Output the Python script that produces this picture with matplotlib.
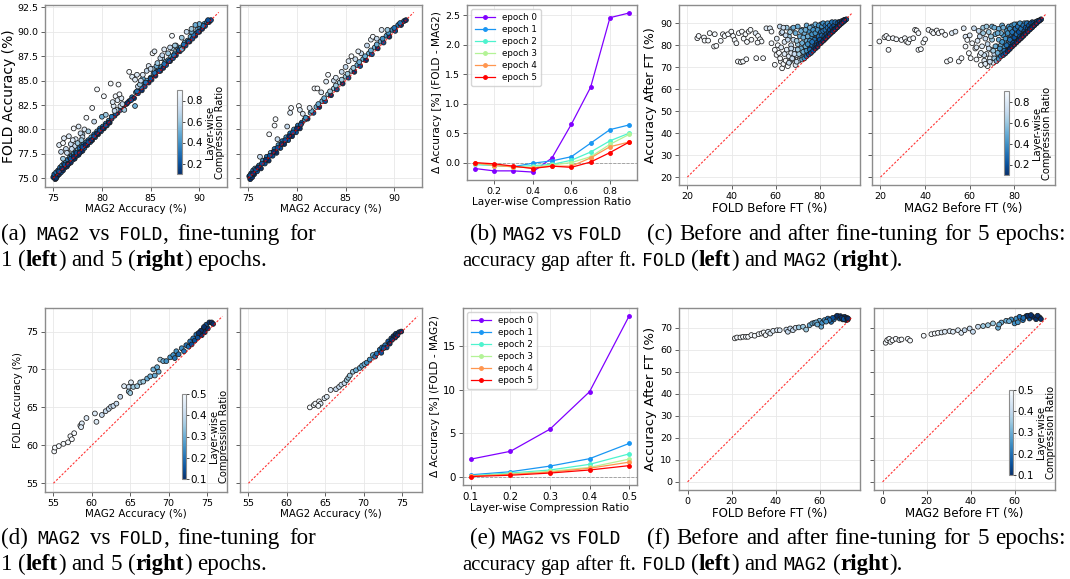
import re
import numpy as np
import matplotlib
matplotlib.use("Agg")
import matplotlib.pyplot as plt

plt.rcParams['font.family'] = 'DejaVu Sans'

# ---- data: (x, y, layer-wise compression ratio) ----
# (a) left: MAG2 vs FOLD accuracy after 1 epoch of fine-tuning
a1_pts = [
    (75.0, 75.1, .1), (75.1, 75.4, .2), (75.2, 74.9, .1), (75.3, 75.6, .3), (75.4, 75.2, .1), (75.5, 75.8, .2),
    (75.6, 75.4, .1), (75.7, 76.1, .3), (75.8, 75.6, .2), (75.9, 76.3, .4), (76.0, 75.8, .1), (76.1, 76.5, .3),
    (76.2, 76.1, .2), (76.3, 76.7, .4), (76.4, 76.2, .1), (76.5, 76.9, .3), (76.6, 76.5, .2), (76.7, 77.1, .4),
    (76.8, 76.6, .1), (76.9, 77.3, .3), (77.0, 76.9, .2), (77.1, 77.5, .4), (77.2, 77.0, .1), (77.3, 77.7, .3),
    (77.4, 77.3, .2), (77.5, 77.9, .5), (77.6, 77.4, .1), (77.7, 78.1, .3), (77.8, 77.7, .2), (77.9, 78.3, .4),
    (78.0, 77.8, .1), (78.1, 78.5, .3), (78.2, 78.1, .2), (78.4, 78.7, .4), (78.5, 78.4, .1), (78.6, 78.9, .3),
    (78.8, 78.7, .2), (78.9, 79.2, .4), (79.0, 78.9, .1), (79.2, 79.5, .3), (79.3, 79.2, .2), (79.5, 79.8, .4),
    (79.6, 79.5, .1), (79.8, 80.1, .3), (79.9, 79.8, .2), (80.1, 80.3, .3), (80.2, 80.1, .1), (80.4, 80.6, .3),
    (80.5, 80.4, .2), (80.7, 80.9, .4), (80.8, 80.7, .1), (81.0, 81.1, .2), (81.3, 81.4, .2), (81.6, 81.7, .1),
    (81.9, 82.0, .3), (82.2, 82.2, .1), (82.5, 82.6, .2), (82.8, 82.9, .1), (83.1, 83.3, .3), (83.3, 83.2, .1),
    (83.5, 83.8, .4), (83.7, 83.7, .2), (83.9, 84.2, .4), (84.1, 84.0, .1), (84.3, 84.6, .4), (84.4, 84.4, .2),
    (84.6, 85.0, .5), (84.8, 84.8, .1), (85.0, 85.3, .4), (85.1, 85.1, .2), (85.3, 85.7, .5), (85.5, 85.5, .1),
    (85.6, 85.9, .3), (85.8, 86.3, .5), (86.0, 86.0, .2), (86.1, 86.4, .4), (86.3, 86.3, .1), (86.5, 86.9, .5),
    (86.6, 86.6, .2), (86.8, 87.1, .4), (87.0, 87.0, .1), (87.1, 87.5, .5), (87.3, 87.3, .2), (87.5, 87.8, .4),
    (87.6, 87.6, .1), (87.8, 88.3, .5), (88.0, 88.0, .2), (88.1, 88.4, .4), (88.3, 88.3, .1), (88.5, 88.9, .5),
    (88.6, 88.6, .2), (88.8, 89.1, .4), (89.0, 89.0, .1), (89.1, 89.5, .5), (89.3, 89.3, .2), (89.5, 89.8, .4),
    (89.6, 89.6, .1), (89.8, 90.2, .5), (90.0, 90.0, .2), (90.1, 90.4, .4), (90.3, 90.3, .1), (90.5, 90.8, .4),
    (90.6, 90.6, .2), (90.8, 91.0, .3), (91.0, 91.0, .1), (91.2, 91.2, .2),
    (75.3, 75.0, .1), (75.6, 75.7, .2), (75.9, 76.0, .1), (76.2, 76.4, .2), (76.5, 76.4, .1), (76.8, 77.0, .2),
    (77.1, 77.2, .1), (77.4, 77.6, .2), (77.7, 77.6, .1), (78.0, 78.2, .2), (78.3, 78.4, .1), (78.6, 78.7, .2),
    (78.9, 78.9, .1), (79.2, 79.3, .2), (79.5, 79.6, .1), (79.8, 79.9, .2), (80.1, 80.1, .1), (80.4, 80.4, .2),
    (80.7, 80.7, .1), (81.0, 81.3, .3), (81.4, 81.6, .2), (82.0, 82.3, .2), (82.6, 82.7, .1), (83.0, 83.0, .2),
    (83.6, 83.9, .3), (84.0, 84.3, .3), (84.5, 84.8, .3), (85.0, 85.2, .2), (85.4, 85.8, .3), (85.9, 86.0, .2),
    (86.4, 86.7, .3), (86.9, 87.0, .2), (87.4, 87.6, .3), (87.9, 88.1, .2), (88.4, 88.7, .3), (88.9, 89.0, .2),
    (89.4, 89.7, .3), (89.9, 90.0, .2), (90.4, 90.6, .3), (90.9, 91.2, .2), (84.2, 85.2, .5), (85.2, 86.2, .6),
    (86.2, 87.3, .6), (87.2, 88.3, .6), (88.2, 89.4, .6), (89.2, 90.0, .5), (90.0, 90.8, .5), (85.6, 86.5, .5),
    (87.6, 88.6, .5), (76.0, 77.0, .6), (76.5, 77.6, .6), (77.2, 78.3, .7), (78.0, 79.5, .6), (79.2, 80.8, .7),
    (80.0, 81.3, .5),
    (75.6, 78.4, .8), (75.8, 77.7, .7), (76.1, 79.1, .8), (76.0, 78.6, .9), (76.3, 78.0, .7), (76.6, 79.3, .8),
    (76.8, 78.5, .7), (77.1, 80.1, .9), (77.3, 79.0, .8), (77.6, 80.3, .8), (77.8, 79.6, .7), (77.5, 78.6, .6),
    (78.0, 79.2, .7), (78.4, 81.2, .9), (78.2, 80.0, .8), (78.6, 79.8, .6), (79.0, 82.2, .9), (79.5, 84.1, .9),
    (80.2, 83.4, .9), (80.4, 81.5, .6), (80.9, 84.7, .9), (81.2, 82.4, .8), (81.4, 83.4, .9), (81.6, 83.0, .8),
    (81.9, 82.4, .7), (81.7, 84.6, .9), (81.5, 82.0, .7), (82.0, 83.2, .8), (82.3, 82.0, .6), (82.8, 85.9, .9),
    (83.1, 85.4, .8), (83.4, 85.1, .8), (83.4, 82.4, .5), (83.7, 84.4, .7), (83.9, 84.6, .6), (84.2, 85.6, .8),
    (84.6, 86.0, .7), (85.2, 87.8, .9), (85.4, 88.0, .8), (85.7, 86.8, .6), (86.0, 87.3, .7), (86.4, 88.2, .8),
    (86.8, 87.8, .6), (87.2, 89.6, .9), (87.5, 88.6, .6), (88.2, 88.2, .5), (88.7, 90.0, .7), (89.2, 90.3, .6),
    (89.6, 90.7, .5), (81.1, 82.8, .8), (81.3, 81.9, .7), (81.8, 83.6, .9), (82.1, 82.6, .7), (83.6, 85.6, .8),
    (84.0, 85.0, .7), (84.8, 86.5, .8), (85.0, 86.2, .7), (86.2, 87.6, .7), (87.0, 88.4, .7), (76.4, 77.6, .7),
    (76.9, 78.0, .7), (77.0, 78.9, .8), (77.9, 78.9, .6),
]

# (a) right: after 5 epochs of fine-tuning
a2_pts = [
    (75.1, 75.2, .1), (75.2, 74.9, .1), (75.3, 75.5, .2), (75.4, 75.1, .1), (75.5, 75.8, .3), (75.6, 75.4, .1),
    (75.7, 76.0, .4), (75.9, 75.7, .2), (76.1, 76.3, .3), (76.3, 76.0, .1), (76.5, 76.8, .4), (76.7, 76.5, .2),
    (76.9, 77.2, .3), (77.1, 76.8, .1), (77.3, 77.6, .5), (77.5, 77.3, .2), (77.7, 78.0, .3), (77.9, 77.6, .1),
    (78.1, 78.4, .4), (78.3, 78.1, .2), (78.5, 78.8, .3), (78.7, 78.5, .1), (78.9, 79.2, .4), (79.1, 78.9, .2),
    (79.3, 79.6, .3), (79.5, 79.3, .1), (79.7, 80.0, .4), (79.9, 79.7, .2), (80.1, 80.4, .3), (80.3, 80.1, .1),
    (80.5, 80.7, .2), (80.8, 81.0, .4), (81.1, 81.1, .1), (81.4, 81.7, .5), (81.7, 81.7, .2), (82.0, 82.3, .5),
    (82.3, 82.3, .1), (82.6, 82.9, .5), (82.9, 82.9, .2), (83.2, 83.6, .6), (83.5, 83.5, .1), (83.8, 84.2, .6),
    (84.1, 84.1, .2), (84.4, 84.8, .6), (84.7, 84.7, .1), (85.0, 85.4, .6), (85.3, 85.3, .2), (85.6, 86.0, .6),
    (85.9, 85.9, .1), (86.2, 86.6, .5), (86.5, 86.5, .2), (86.8, 87.2, .5), (87.1, 87.1, .1), (87.4, 87.8, .5),
    (87.7, 87.7, .2), (88.0, 88.4, .5), (88.3, 88.3, .1), (88.6, 89.0, .5), (88.9, 88.9, .2), (89.2, 89.6, .4),
    (89.5, 89.5, .1), (89.8, 90.2, .4), (90.1, 90.1, .2), (90.4, 90.7, .3), (90.7, 90.7, .1), (91.0, 91.1, .2),
    (91.2, 91.2, .1),
    (75.2, 75.3, .2), (75.5, 75.5, .1), (75.8, 75.9, .2), (76.0, 76.1, .1), (76.4, 76.5, .2), (76.8, 76.9, .1),
    (77.2, 77.3, .2), (77.6, 77.7, .1), (78.0, 78.1, .2), (78.4, 78.5, .1), (78.8, 78.9, .2), (79.2, 79.3, .1),
    (79.6, 79.7, .2), (80.0, 80.1, .1), (80.4, 80.5, .2), (80.9, 81.2, .4), (81.5, 81.9, .5), (82.2, 82.6, .5),
    (82.8, 83.2, .5), (83.4, 83.9, .6), (84.0, 84.5, .6), (84.6, 85.1, .6), (85.2, 85.7, .6), (85.8, 86.3, .6),
    (86.4, 86.9, .5), (87.0, 87.5, .5), (87.6, 88.1, .5), (88.2, 88.7, .5), (88.8, 89.3, .4), (89.4, 89.9, .4),
    (90.0, 90.4, .3), (90.6, 90.9, .3), (83.8, 85.0, .7), (85.0, 86.4, .7), (86.6, 87.8, .7), (87.2, 88.6, .7),
    (77.15, 79.5, .9), (77.7, 80.4, .9), (77.8, 81.05, .9), (79.3, 81.7, .8), (79.4, 82.2, .9), (80.2, 82.4, .9),
    (80.3, 82.0, .8), (81.3, 82.2, .8), (81.8, 84.2, .9), (82.1, 84.2, .9), (83.0, 84.9, .8), (83.2, 85.6, .9),
    (85.3, 87.0, .8), (85.6, 87.5, .9), (86.3, 88.0, .8), (87.6, 89.2, .8), (87.8, 89.5, .9), (88.7, 90.2, .8),
    (82.5, 83.8, .8), (84.0, 85.3, .8), (84.6, 85.9, .7), (86.0, 87.2, .7), (88.2, 89.3, .7), (89.3, 90.2, .6),
    (76.2, 77.2, .7), (78.0, 79.0, .7), (79.0, 80.3, .7), (80.6, 81.6, .8),
]

# (b) accuracy gap FOLD - MAG2 per epoch
b_ratio = [0.1, 0.2, 0.3, 0.4, 0.5, 0.6, 0.7, 0.8, 0.9]
b_gaps = [
    [-0.10, -0.14, -0.14, -0.16, 0.08, 0.65, 1.28, 2.46, 2.54],
    [-0.03, -0.04, -0.07, -0.01, 0.03, 0.10, 0.33, 0.56, 0.64],
    [-0.03, -0.05, -0.07, -0.05, -0.03, 0.04, 0.18, 0.37, 0.50],
    [-0.02, -0.04, -0.07, -0.08, -0.04, 0.00, 0.10, 0.31, 0.48],
    [0.00, -0.05, -0.07, -0.09, -0.06, -0.06, 0.08, 0.27, 0.35],
    [0.00, -0.02, -0.06, -0.10, -0.06, -0.08, 0.01, 0.17, 0.35],
]
epoch_labels = ["epoch 0", "epoch 1", "epoch 2", "epoch 3", "epoch 4", "epoch 5"]

# (c) before vs after fine-tuning, FOLD (left) and MAG2 (right)
c1_pts = [
    (24.5, 83.2, .9), (25.1, 84.2, .9), (27.5, 83.5, .9), (27.8, 82.1, .9), (29.4, 82.1, .9), (30.1, 85.5, .9),
    (32.4, 85.0, .9), (32.1, 79.4, .9), (33.1, 79.7, .9), (35.1, 82.0, .9), (36.1, 85.0, .9), (36.9, 84.2, .9),
    (38.4, 85.0, .9), (39.9, 86.2, .9), (40.7, 84.2, .9), (41.4, 82.4, .9), (42.2, 80.9, .9), (42.9, 72.6, .9),
    (44.2, 72.3, .9), (45.2, 72.6, .9), (46.7, 73.6, .9), (43.3, 85.5, .9), (44.7, 86.2, .9), (46.3, 85.0, .9),
    (47.8, 86.2, .9), (48.6, 87.0, .9), (45.5, 83.0, .9), (47.0, 81.5, .9), (49.0, 82.5, .9), (50.9, 85.5, .8),
    (52.0, 84.2, .9), (52.9, 82.7, .9), (53.6, 81.7, .9), (51.8, 81.2, .9), (54.3, 74.1, .9), (51.2, 74.1, .9),
    (55.8, 87.7, .8), (57.4, 87.7, .8), (58.1, 86.2, .9), (58.1, 80.9, .9), (59.6, 77.9, .9), (59.6, 71.1, .9),
    (60.4, 75.6, .9), (61.9, 88.5, .7), (62.6, 85.5, .8), (62.3, 72.6, .9), (62.9, 69.5, .9), (60.5, 83.0, .8),
    (61.0, 80.0, .9), (61.5, 76.5, .9), (62.0, 74.0, .9), (62.5, 79.0, .8), (63.0, 86.0, .7), (63.5, 71.5, .9),
    (64.0, 76.0, .8), (64.0, 81.5, .8), (64.5, 73.0, .9), (65.0, 88.0, .6), (65.0, 78.0, .8), (65.5, 70.5, .9),
    (66.0, 75.0, .8), (66.0, 84.0, .6), (66.5, 72.5, .8), (67.0, 80.0, .7), (67.0, 76.5, .8), (67.5, 87.5, .6),
    (68.0, 73.5, .8), (68.0, 82.5, .7), (68.5, 78.0, .7), (69.0, 71.0, .8), (69.0, 85.5, .5), (69.5, 75.5, .7),
    (70.0, 80.5, .6), (70.0, 88.5, .5), (70.5, 73.0, .7), (71.0, 77.5, .6), (71.0, 84.0, .5), (71.5, 75.0, .6),
    (72.0, 81.0, .5), (72.0, 87.0, .5), (72.5, 74.5, .6), (73.0, 78.0, .5), (73.0, 85.5, .5), (73.5, 75.5, .5),
    (74.0, 82.0, .5), (74.0, 89.0, .5), (74.5, 77.0, .4), (75.0, 80.0, .5), (75.0, 86.5, .4), (75.5, 76.5, .3),
    (76.0, 83.5, .4), (76.0, 78.5, .4), (76.5, 88.5, .4), (77.0, 78.0, .2), (77.0, 81.0, .3), (77.5, 85.5, .4),
    (78.0, 79.5, .2), (78.0, 83.0, .3), (78.5, 88.0, .4), (79.0, 80.0, .2), (79.0, 85.5, .3), (79.5, 82.0, .2),
    (80.0, 81.0, .1), (80.0, 87.5, .3), (80.5, 89.5, .4), (80.5, 84.0, .3), (81.0, 82.0, .2), (81.0, 86.0, .3),
    (81.5, 83.5, .2), (82.0, 82.5, .1), (82.0, 88.0, .3), (82.5, 85.0, .2), (83.0, 83.5, .1), (83.0, 89.5, .4),
    (83.5, 86.5, .3), (84.0, 84.5, .1), (84.0, 88.0, .3), (84.5, 85.5, .2), (85.0, 87.0, .2), (85.0, 90.0, .4),
    (85.5, 86.0, .1), (86.0, 88.5, .3), (86.5, 87.0, .1), (86.5, 89.5, .3), (87.0, 88.0, .2), (87.5, 88.0, .1),
    (87.5, 90.0, .3), (88.0, 89.0, .2), (88.5, 89.0, .1), (88.5, 90.5, .3), (89.0, 89.5, .2), (89.5, 90.0, .1),
    (90.0, 90.5, .2), (90.5, 90.8, .1), (91.0, 91.2, .2), (91.5, 91.5, .1), (92.0, 91.8, .2),
    (74.5, 84.0, .5), (75.5, 88.0, .5), (75.5, 82.0, .4), (76.5, 85.0, .4), (76.5, 80.0, .3), (77.0, 87.0, .4),
    (77.5, 82.5, .3), (78.0, 89.5, .5), (78.0, 85.5, .4), (78.5, 81.0, .2), (79.0, 87.0, .4), (79.5, 84.0, .3),
    (79.5, 89.0, .4), (80.0, 82.5, .2), (80.5, 86.0, .3), (81.0, 88.5, .4), (81.0, 84.5, .3), (81.5, 90.0, .4),
    (81.5, 86.5, .3), (82.0, 84.0, .2), (82.5, 89.0, .3), (82.5, 87.0, .3), (83.0, 85.0, .2), (83.5, 88.0, .3),
    (83.5, 90.0, .4), (84.0, 86.0, .2), (84.5, 89.0, .3), (84.5, 87.0, .2), (85.0, 85.5, .1), (85.5, 90.5, .3),
    (85.5, 88.0, .2), (86.0, 87.0, .2), (86.5, 89.0, .2), (87.0, 90.5, .3), (87.0, 87.5, .1), (88.0, 90.0, .2),
    (88.0, 88.5, .1), (89.0, 90.5, .2), (89.5, 89.8, .1), (90.0, 91.0, .2), (90.5, 90.6, .1), (91.0, 91.5, .1),
    (70.5, 76.0, .6), (71.5, 78.5, .5), (72.0, 73.5, .5), (72.5, 77.0, .5), (73.0, 74.0, .4), (73.5, 79.5, .5),
    (74.0, 75.0, .3), (74.0, 77.5, .4), (74.5, 80.5, .4), (75.0, 75.8, .2), (75.5, 78.0, .3), (76.0, 76.5, .2),
    (76.5, 81.5, .3), (77.0, 77.5, .2), (77.5, 79.0, .2), (78.0, 78.5, .1), (78.5, 80.0, .2), (79.0, 79.3, .1),
    (79.5, 80.5, .1), (80.5, 81.0, .1), (81.5, 82.0, .1), (82.5, 83.0, .1), (83.5, 84.0, .1), (84.5, 85.0, .1),
    (86.0, 86.3, .1), (87.0, 87.3, .1), (88.0, 88.2, .1), (89.0, 89.2, .1), (90.0, 90.1, .1), (91.0, 91.0, .1),
    (66.0, 72.0, .7), (67.5, 74.0, .7), (68.5, 76.0, .7), (69.5, 72.5, .7), (70.0, 78.0, .6), (64.5, 84.5, .7),
    (63.5, 88.0, .7), (66.5, 86.0, .6), (68.0, 88.0, .5), (69.5, 82.0, .6), (71.5, 86.5, .5), (72.5, 83.5, .5),
    (73.5, 87.0, .5), (65.5, 82.5, .7), (67.0, 78.5, .7),
]
c2_pts = [
    (19.5, 81.7, .9), (21.8, 83.6, .9), (22.6, 84.2, .9), (23.6, 83.2, .9), (23.6, 77.9, .9), (25.6, 83.2, .9),
    (27.1, 82.7, .9), (29.4, 82.4, .9), (30.9, 83.2, .9), (31.6, 81.7, .9), (32.4, 81.2, .9), (33.2, 82.7, .9),
    (34.7, 83.2, .9), (35.5, 87.0, .9), (36.2, 86.7, .9), (37.0, 85.5, .9), (37.0, 77.9, .9), (38.1, 78.2, .9),
    (39.2, 81.2, .9), (40.0, 82.7, .9), (41.5, 87.0, .9), (43.0, 86.2, .9), (43.7, 85.5, .9), (45.2, 86.7, .9),
    (46.0, 85.5, .9), (47.5, 86.2, .9), (49.0, 84.7, .9), (49.8, 72.6, .9), (51.3, 73.3, .9), (52.0, 85.5, .8),
    (53.6, 86.2, .8), (55.1, 72.6, .9), (56.3, 74.1, .9), (57.3, 87.7, .8), (58.1, 83.9, .8), (58.9, 82.4, .9),
    (58.1, 79.4, .9), (59.6, 76.4, .9), (60.4, 74.1, .9), (61.1, 80.9, .9), (61.9, 87.7, .7), (60.0, 84.5, .8),
    (62.5, 78.5, .9), (63.0, 73.5, .9), (63.5, 82.0, .8), (64.0, 86.5, .7), (64.5, 75.5, .9), (65.0, 71.0, .9),
    (65.5, 79.5, .8), (66.0, 88.0, .6), (66.5, 73.0, .8), (67.0, 83.0, .7), (67.5, 76.0, .8), (68.0, 70.5, .9),
    (68.0, 80.5, .7), (68.5, 86.0, .6), (69.0, 74.0, .8), (69.5, 78.0, .7), (70.0, 82.5, .6), (70.0, 88.5, .5),
    (70.5, 72.0, .8), (71.0, 76.0, .7), (71.5, 85.0, .5), (72.0, 79.5, .6), (72.5, 74.0, .6), (73.0, 82.5, .5),
    (73.0, 87.5, .5), (73.5, 76.5, .5), (74.0, 80.0, .5), (74.5, 89.0, .5), (75.0, 77.0, .4), (75.0, 84.5, .4),
    (75.5, 81.5, .4), (76.0, 78.0, .3), (76.5, 86.5, .4), (77.0, 79.5, .3), (77.0, 83.0, .3), (77.5, 88.5, .4),
    (78.0, 80.0, .2), (78.5, 85.0, .3), (79.0, 81.5, .2), (79.0, 89.0, .4), (79.5, 83.5, .3), (80.0, 81.0, .1),
    (80.0, 87.0, .3), (80.5, 85.5, .3), (81.0, 82.5, .2), (81.0, 89.5, .4), (81.5, 84.0, .2), (82.0, 82.5, .1),
    (82.0, 87.5, .3), (82.5, 86.0, .2), (83.0, 83.5, .1), (83.0, 89.0, .3), (83.5, 85.0, .2), (84.0, 84.5, .1),
    (84.0, 87.5, .3), (84.5, 90.0, .4), (85.0, 86.0, .2), (85.5, 88.5, .3), (86.0, 86.5, .1), (86.0, 90.0, .3),
    (86.5, 87.5, .2), (87.0, 89.0, .3), (87.5, 88.0, .1), (88.0, 90.5, .3), (88.5, 89.0, .2), (89.0, 89.5, .1),
    (89.5, 90.5, .2), (90.0, 90.3, .1), (90.5, 91.0, .2), (91.0, 91.2, .1), (91.5, 91.4, .2), (92.0, 91.8, .1),
    (74.0, 85.5, .5), (75.0, 88.0, .5), (75.5, 79.0, .4), (76.0, 83.0, .4), (76.5, 77.5, .3), (77.0, 85.5, .4),
    (77.5, 80.5, .3), (78.0, 87.5, .4), (78.0, 82.5, .3), (78.5, 79.5, .2), (79.0, 86.0, .3), (79.5, 81.0, .2),
    (80.0, 89.5, .4), (80.0, 83.5, .2), (80.5, 87.5, .3), (81.0, 85.0, .3), (81.5, 82.0, .1), (81.5, 88.5, .3),
    (82.0, 86.0, .2), (82.5, 84.0, .2), (82.5, 90.0, .4), (83.0, 87.5, .3), (83.5, 84.0, .1), (84.0, 89.0, .3),
    (84.5, 86.5, .2), (85.0, 85.5, .1), (85.0, 88.0, .2), (85.5, 90.0, .3), (86.0, 87.5, .2), (86.5, 89.0, .2),
    (87.0, 87.5, .1), (87.5, 90.0, .2), (88.0, 88.5, .1), (88.5, 90.0, .2), (89.0, 89.3, .1), (90.0, 90.8, .2),
    (70.5, 77.5, .6), (71.0, 74.0, .6), (71.5, 79.5, .5), (72.0, 72.8, .5), (72.5, 76.5, .5), (73.0, 73.8, .4),
    (73.5, 78.5, .4), (74.0, 75.0, .3), (74.5, 81.5, .4), (75.0, 75.5, .2), (75.5, 77.5, .3), (76.0, 76.3, .2),
    (76.5, 80.0, .3), (77.0, 77.3, .1), (78.0, 78.3, .1), (79.0, 79.4, .1), (80.0, 80.3, .1), (81.0, 81.3, .1),
    (82.0, 82.3, .1), (83.0, 83.2, .1), (84.0, 84.2, .1), (85.0, 85.2, .1), (86.0, 86.2, .1), (87.0, 87.2, .1),
    (88.0, 88.1, .1), (89.0, 89.1, .1), (90.0, 90.0, .1), (91.0, 91.0, .1), (66.5, 75.5, .7), (67.0, 71.5, .8),
    (68.5, 78.5, .7), (69.0, 72.5, .7), (64.5, 84.0, .7), (66.0, 85.5, .6), (67.5, 88.5, .6), (69.5, 84.0, .6),
    (71.0, 88.0, .5), (72.5, 85.5, .5), (63.0, 79.0, .8), (65.0, 76.5, .8),
]

# (d) MAG2 vs FOLD accuracy, second setting
d1_pts = [
    (55.1, 59.2, .5), (55.2, 59.7, .5), (55.7, 59.9, .5), (56.3, 60.2, .5), (56.9, 60.4, .5), (57.2, 61.2, .5),
    (57.4, 60.8, .5), (57.7, 61.6, .5), (58.5, 62.6, .45), (58.7, 62.9, .45), (58.6, 62.4, .45), (59.3, 63.6, .45),
    (60.4, 64.2, .45), (60.6, 63.1, .45), (61.3, 64.0, .4), (61.8, 64.5, .4), (62.2, 64.8, .4), (62.5, 65.1, .4),
    (62.8, 65.2, .4), (63.2, 65.5, .4), (63.7, 66.4, .4), (64.2, 67.8, .45), (64.8, 67.7, .4), (65.1, 68.3, .45),
    (64.8, 67.1, .35), (65.0, 66.9, .35), (65.4, 67.7, .35), (65.9, 67.8, .35), (66.3, 68.3, .35), (66.7, 68.4, .35),
    (67.2, 68.8, .3), (67.6, 69.1, .3), (68.0, 70.0, .3), (68.2, 69.2, .3), (68.5, 70.3, .3), (68.9, 71.3, .35),
    (68.7, 69.7, .3), (69.3, 71.1, .3), (69.7, 71.1, .25), (70.2, 71.6, .25), (70.6, 71.9, .25), (70.8, 71.5, .2),
    (71.0, 72.4, .25), (71.3, 72.0, .2), (71.7, 72.8, .25), (72.0, 72.4, .2), (72.3, 73.2, .2), (72.6, 73.0, .2),
    (72.8, 73.7, .2), (73.0, 73.3, .15), (73.2, 74.1, .2), (73.4, 73.8, .15), (73.6, 74.6, .2), (73.8, 74.2, .15),
    (74.1, 74.9, .15), (74.3, 74.5, .1), (74.5, 75.3, .15), (74.7, 74.9, .1), (74.9, 75.9, .15), (75.1, 75.4, .1),
    (75.3, 76.2, .1), (75.6, 76.2, .1), (75.8, 76.0, .1), (74.2, 75.1, .1), (73.9, 74.8, .1), (74.6, 75.6, .1),
]
d2_pts = [
    (63.0, 65.0, .5), (63.5, 65.3, .5), (63.7, 65.5, .5), (64.2, 65.8, .5), (64.4, 65.5, .45), (64.1, 65.2, .5),
    (64.9, 66.2, .45), (65.2, 66.4, .45), (65.7, 67.3, .45), (66.4, 67.4, .4), (66.8, 67.7, .4), (67.1, 68.0, .4),
    (67.5, 68.2, .4), (67.8, 68.6, .35), (68.0, 68.9, .35), (68.2, 69.2, .35), (68.6, 69.7, .35), (69.0, 69.9, .3),
    (69.5, 70.2, .3), (69.8, 70.5, .3), (70.1, 70.7, .3), (70.4, 70.9, .25), (70.8, 71.3, .25), (71.2, 71.9, .3),
    (71.5, 71.7, .2), (71.7, 72.1, .2), (72.1, 72.6, .2), (72.3, 72.2, .15), (72.4, 72.9, .2), (72.8, 73.2, .2),
    (73.0, 72.9, .15), (73.2, 73.7, .15), (73.4, 73.4, .1), (73.6, 74.1, .15), (73.9, 74.4, .1), (74.1, 74.2, .1),
    (74.2, 74.7, .1), (74.6, 74.9, .1), (74.9, 75.0, .1), (74.4, 74.5, .1), (73.7, 73.9, .1), (72.6, 72.8, .15),
]

# (e) accuracy gap, second setting
e_ratio = [0.1, 0.2, 0.3, 0.4, 0.5]
e_gaps = [
    [2.05, 2.95, 5.5, 9.8, 18.5],
    [0.25, 0.6, 1.25, 2.1, 3.85],
    [0.15, 0.45, 0.8, 1.45, 2.65],
    [0.10, 0.35, 0.65, 1.1, 2.05],
    [0.08, 0.3, 0.55, 1.0, 1.7],
    [0.05, 0.2, 0.45, 0.8, 1.3],
]

# (f) before vs after fine-tuning, second setting
f1_pts = [
    (21.5, 65.2, .5), (22.5, 65.6, .5), (24.0, 65.6, .5), (25.2, 65.9, .5), (26.5, 65.9, .5), (27.5, 65.9, .5),
    (29.0, 66.7, .5), (30.5, 66.4, .5), (32.3, 67.1, .5), (33.6, 67.4, .5), (34.6, 67.9, .5), (35.5, 66.7, .5),
    (36.6, 68.2, .45), (37.6, 67.4, .45), (38.9, 68.6, .45), (40.7, 68.9, .45), (41.9, 68.9, .45), (44.9, 69.2, .4),
    (45.6, 68.2, .4), (46.7, 69.7, .4), (47.9, 68.9, .4), (49.1, 70.0, .4), (50.6, 70.2, .35), (52.5, 70.5, .35),
    (53.9, 69.2, .35), (55.5, 71.2, .3), (56.7, 72.0, .3), (57.7, 72.3, .3), (60.0, 73.2, .3), (60.8, 70.5, .3),
    (61.2, 72.3, .25), (62.3, 73.5, .25), (63.8, 74.2, .2), (65.3, 72.7, .2), (66.5, 73.8, .2), (67.6, 75.0, .15),
    (69.1, 74.2, .15), (70.6, 73.8, .1), (71.4, 75.0, .1), (72.1, 73.5, .1), (68.0, 75.5, .1), (69.5, 75.3, .1),
    (70.0, 74.5, .1), (71.0, 74.0, .15), (72.5, 74.5, .1), (66.0, 74.5, .15), (64.5, 73.5, .2), (63.0, 72.8, .25),
    (58.5, 72.5, .3), (59.0, 71.5, .3), (72.8, 73.7, .1), (73.0, 74.2, .1),
]
f2_pts = [
    (1.4, 63.2, .5), (2.1, 64.4, .5), (3.0, 65.0, .5), (3.6, 63.6, .5), (4.5, 64.3, .5), (6.0, 65.0, .5),
    (7.6, 64.4, .5), (8.6, 64.7, .5), (11.5, 65.0, .5), (12.5, 64.2, .5), (18.7, 66.4, .5), (22.2, 67.1, .5),
    (23.7, 67.4, .5), (25.2, 67.7, .5), (26.8, 67.9, .45), (28.3, 68.2, .45), (30.5, 68.5, .45), (32.0, 68.2, .45),
    (34.3, 68.9, .45), (35.8, 67.7, .45), (37.3, 68.9, .4), (39.6, 69.7, .4), (41.1, 68.2, .4), (43.4, 70.5, .4),
    (45.7, 70.8, .35), (47.9, 71.2, .35), (50.2, 72.0, .35), (52.5, 70.0, .3), (54.0, 72.4, .3), (56.2, 73.2, .3),
    (58.5, 73.8, .25), (60.0, 72.0, .25), (60.8, 74.2, .25), (62.3, 75.0, .2), (63.8, 73.5, .2), (65.3, 75.3, .15),
    (66.8, 74.2, .15), (68.3, 75.0, .1), (69.8, 73.9, .1), (71.4, 74.7, .1), (64.0, 74.5, .2), (66.0, 75.5, .1),
    (67.5, 75.8, .1), (70.5, 75.5, .1), (72.0, 74.0, .1), (61.5, 72.5, .25), (57.5, 73.0, .3), (53.0, 71.5, .3),
]

W, H = 1070, 579
fig = plt.figure(figsize=(W / 100, H / 100), dpi=100)


def rect(x0, y0, x1, y1):
    return [x0 / W, 1 - y1 / H, (x1 - x0) / W, (y1 - y0) / H]


def style(ax, fs):
    ax.grid(True, color='#e8e8e8', lw=0.6)
    ax.set_axisbelow(True)
    for s in ax.spines.values():
        s.set_color('#8c8c8c')
        s.set_linewidth(1.0)
    ax.tick_params(labelsize=fs, length=3, width=0.6, color='#444444', pad=2)


def scatter(ax, pts, lo, hi, vmax):
    x, y, r = zip(*pts)
    sc = ax.scatter(x, y, c=r, cmap='Blues_r', vmin=0.1, vmax=vmax, s=12,
                    edgecolors='#1a1a1a', linewidths=0.55, zorder=2)
    ax.plot([lo, hi], [lo, hi], color='red', ls=(0, (2, 1.5)), lw=0.8, alpha=0.8, zorder=3)
    return sc


def cbar(sc, box, ticks):
    cax = fig.add_axes(rect(*box))
    cb = fig.colorbar(sc, cax=cax, ticks=ticks)
    cb.outline.set_edgecolor('#8c8c8c')
    cb.ax.tick_params(labelsize=7.5, length=2, width=0.5, pad=1)
    cb.set_label('Layer-wise\nCompression Ratio', fontsize=7.2, labelpad=2, linespacing=1.0)


def gap_panel(ax, xs, gaps):
    cols = plt.cm.rainbow(np.linspace(0, 1, len(gaps)))
    ax.axhline(0, color='#999999', ls='--', lw=0.6, zorder=1)
    for g, c, lab in zip(gaps, cols, epoch_labels):
        ax.plot(xs, g, color=c, marker='o', ms=2.5, lw=0.9, label=lab)
    ax.legend(loc='upper left', fontsize=6.3, handlelength=2.3, borderpad=0.4,
              labelspacing=0.35, edgecolor='#cccccc', fancybox=True)
    ax.set_xlabel('Layer-wise Compression Ratio', fontsize=7.6, labelpad=1)
    ax.set_ylabel('Δ Accuracy [%] (FOLD - MAG2)', fontsize=7.6, labelpad=2)


# ---- row 1 ----
ax = fig.add_axes(rect(45, 5, 227, 187))
style(ax, 6.8)
sc = scatter(ax, a1_pts, 75, 92, 0.9)
ax.set_xlim(74.15, 92.85); ax.set_ylim(74.1, 92.75)
ax.set_xticks([75, 80, 85, 90]); ax.set_yticks(np.arange(75, 92.6, 2.5))
ax.set_xlabel('MAG2 Accuracy (%)', fontsize=7.4, labelpad=1)
ax.set_ylabel('FOLD Accuracy (%)', fontsize=10, labelpad=1)
cbar(sc, (177, 90, 182, 174), [0.2, 0.4, 0.6, 0.8])

ax = fig.add_axes(rect(240, 5, 422, 187))
style(ax, 6.8)
scatter(ax, a2_pts, 75, 92, 0.9)
ax.set_xlim(74.15, 92.85); ax.set_ylim(74.1, 92.75)
ax.set_xticks([75, 80, 85, 90]); ax.set_yticks(np.arange(75, 92.6, 2.5))
ax.tick_params(labelleft=False)
ax.set_xlabel('MAG2 Accuracy (%)', fontsize=7.4, labelpad=1)

ax = fig.add_axes(rect(467, 5, 637, 180))
style(ax, 6.8)
gap_panel(ax, b_ratio, b_gaps)
ax.set_xticks([0.2, 0.4, 0.6, 0.8])

ax = fig.add_axes(rect(679, 5, 860, 185))
style(ax, 6.8)
scatter(ax, c1_pts, 20, 94.5, 0.9)
ax.set_xlim(16.2, 98.2); ax.set_ylim(16.4, 98.3)
ax.set_xticks([20, 40, 60, 80]); ax.set_yticks(range(20, 91, 10))
ax.set_xlabel('FOLD Before FT (%)', fontsize=8.5, labelpad=1)
ax.set_ylabel('Accuracy After FT (%)', fontsize=9, labelpad=2)

ax = fig.add_axes(rect(872, 5, 1055, 185))
style(ax, 6.8)
sc = scatter(ax, c2_pts, 20, 94.5, 0.9)
ax.set_xlim(16.2, 98.2); ax.set_ylim(16.4, 98.3)
ax.set_xticks([20, 40, 60, 80]); ax.set_yticks(range(20, 91, 10))
ax.tick_params(labelleft=False)
ax.set_xlabel('MAG2 Before FT (%)', fontsize=8.5, labelpad=1)
cbar(sc, (1004, 91, 1009, 175), [0.2, 0.4, 0.6, 0.8])

# ---- row 2 ----
ax = fig.add_axes(rect(45, 308, 227, 492))
style(ax, 6.8)
sc = scatter(ax, d1_pts, 55, 77, 0.5)
ax.set_xlim(53.9, 77.6); ax.set_ylim(53.85, 78.1)
ax.set_xticks(range(55, 76, 5)); ax.set_yticks(range(55, 76, 5))
ax.set_xlabel('MAG2 Accuracy (%)', fontsize=7.4, labelpad=1)
ax.set_ylabel('FOLD Accuracy (%)', fontsize=7.2, labelpad=2)
cbar(sc, (182, 394, 186, 479), [0.1, 0.2, 0.3, 0.4, 0.5])

ax = fig.add_axes(rect(240, 308, 422, 492))
style(ax, 6.8)
scatter(ax, d2_pts, 55, 77, 0.5)
ax.set_xlim(53.9, 77.6); ax.set_ylim(53.85, 78.1)
ax.set_xticks(range(55, 76, 5)); ax.set_yticks(range(55, 76, 5))
ax.tick_params(labelleft=False)
ax.set_xlabel('MAG2 Accuracy (%)', fontsize=7.4, labelpad=1)

ax = fig.add_axes(rect(463, 308, 637, 485))
style(ax, 7.4)
gap_panel(ax, e_ratio, e_gaps)
ax.set_xticks(e_ratio); ax.set_yticks([0, 5, 10, 15])

ax = fig.add_axes(rect(679, 308, 860, 490))
style(ax, 6.8)
scatter(ax, f1_pts, 0, 75, 0.5)
ax.set_xlim(-3.9, 78.4); ax.set_ylim(-3.7, 79)
ax.set_xticks([0, 20, 40, 60]); ax.set_yticks(range(0, 71, 10))
ax.set_xlabel('FOLD Before FT (%)', fontsize=8.5, labelpad=1)
ax.set_ylabel('Accuracy After FT (%)', fontsize=9.5, labelpad=2)

ax = fig.add_axes(rect(874, 308, 1055, 490))
style(ax, 6.8)
sc = scatter(ax, f2_pts, 0, 75, 0.5)
ax.set_xlim(-3.9, 78.4); ax.set_ylim(-3.7, 79)
ax.set_xticks([0, 20, 40, 60]); ax.set_yticks(range(0, 71, 10))
ax.tick_params(labelleft=False)
ax.set_xlabel('MAG2 Before FT (%)', fontsize=8.5, labelpad=1)
cbar(sc, (1009, 390, 1013, 475), [0.1, 0.2, 0.3, 0.4, 0.5])

# ---- captions: serif text with typewriter names and bold words ----
FONTS = {
    'rm': dict(family='Liberation Serif', fontsize=16.6),
    'bf': dict(family='Liberation Serif', fontsize=16.6, fontweight='bold'),
    'tt': dict(family='DejaVu Sans Mono', fontsize=13.0),
}
renderer = fig.canvas.get_renderer()


def text_width(s, props):
    t = fig.text(0, 0, 'x' + s + 'x', **props)
    w1 = t.get_window_extent(renderer).width
    t.set_text('xx')
    w0 = t.get_window_extent(renderer).width
    t.remove()
    return w1 - w0


def caption(x0, y, pieces, x1=None):
    # x1: right edge the line is fitted to (justified or shrunk)
    nat = sum(text_width(s, FONTS[k]) for s, k in pieces)
    scale, extra = 1.0, 0.0
    if x1 is not None:
        if nat > x1 - x0:
            scale = (x1 - x0) / nat
        else:
            extra = (x1 - x0 - nat) / max(1, sum(s.count(' ') for s, _ in pieces))
    x = x0
    for s, kind in pieces:
        props = dict(FONTS[kind])
        props['fontsize'] *= scale
        for tok in re.split('( )', s):
            if not tok:
                continue
            if tok == ' ':
                x += text_width(' ', props) + extra
                continue
            fig.text(x / W, 1 - y / H, tok, va='baseline', ha='left', **props)
            x += text_width(tok, props)


for y1, y2, (la, lb, lc) in [(240, 266, 'abc'), (544, 570, 'def')]:
    caption(1, y1, [('(%s) ' % la, 'rm'), ('MAG2', 'tt'), (' vs ', 'rm'), ('FOLD', 'tt'),
                    (', fine-tuning for', 'rm')], 316)
    caption(1, y2, [('1 (', 'rm'), ('left', 'bf'), (') and 5 (', 'rm'), ('right', 'bf'),
                    (') epochs.', 'rm')])
    caption(470, y1, [('(%s) ' % lb, 'rm'), ('MAG2', 'tt'), (' vs ', 'rm'), ('FOLD', 'tt')])
    caption(462, y2, [('accuracy gap after ft.', 'rm')], 636)
    caption(647, y1, [('(%s) Before and after fine-tuning for 5 epochs:' % lc, 'rm')], 1066)
    caption(642, y2, [('FOLD', 'tt'), (' (', 'rm'), ('left', 'bf'), (') and ', 'rm'), ('MAG2', 'tt'),
                      (' (', 'rm'), ('right', 'bf'), (').', 'rm')])

fig.savefig('out.png', dpi=100)
